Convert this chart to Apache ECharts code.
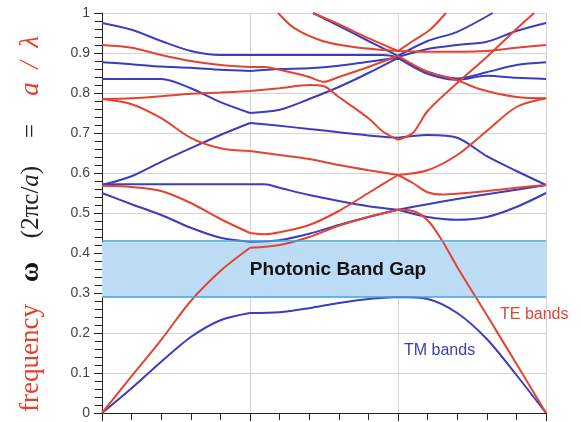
<!DOCTYPE html>
<html><head><meta charset="utf-8">
<script src="https://cdn.jsdelivr.net/npm/echarts@6/dist/echarts.min.js"></script>
<style>html,body{margin:0;padding:0;background:#fff}#c{width:581px;height:422px}</style>
</head><body><div id="c"></div>
<script>
// k-path position: 0 = Γ, 1 = X, 2 = M, 3 = Γ
const Y_TICK_LABELS = ['0','0.1','0.2','0.3','0.4','0.5','0.6','0.7','0.8','0.9','1'];
const GAP = [0.29, 0.427];

// TM bands (blue)
const TM1 = [[0,0],[0.2,0.062],[0.4,0.128],[0.6,0.19],[0.8,0.232],[1,0.25],[1.2,0.252],[1.4,0.262],[1.6,0.275],[1.8,0.285],[2,0.29],[2.2,0.285],[2.4,0.25],[2.6,0.185],[2.8,0.095],[3,0]];
const TM2 = [[0,0.55],[0.2,0.522],[0.4,0.495],[0.6,0.463],[0.8,0.438],[1,0.428],[1.2,0.432],[1.4,0.448],[1.6,0.47],[1.8,0.49],[2,0.508],[2.2,0.49],[2.4,0.483],[2.6,0.49],[2.8,0.515],[3,0.55]];
const TM3 = [[0,0.57],[0.2,0.592],[0.4,0.628],[0.6,0.662],[0.8,0.695],[1,0.725],[1.2,0.718],[1.4,0.71],[1.6,0.702],[1.8,0.694],[2,0.688],[2.2,0.695],[2.4,0.688],[2.6,0.642],[2.8,0.605],[3,0.57]];
const TM4 = [[0,0.572],[0.5,0.572],[1,0.572],[1.1,0.572],[1.2,0.563],[1.4,0.545],[1.6,0.53],[1.8,0.517],[2,0.508],[2.2,0.522],[2.4,0.535],[2.6,0.547],[2.8,0.558],[3,0.57]];
const TM5 = [[0,0.835],[0.2,0.835],[0.4,0.835],[0.6,0.812],[0.8,0.777],[1,0.75],[1.2,0.758],[1.4,0.785],[1.6,0.815],[1.8,0.85],[2,0.888],[2.2,0.848],[2.4,0.833],[2.6,0.843],[2.8,0.838],[3,0.835]];
const TM6 = [[0,0.877],[0.2,0.872],[0.4,0.866],[0.6,0.863],[0.8,0.858],[1,0.855],[1.2,0.86],[1.4,0.862],[1.6,0.868],[1.8,0.878],[2,0.888],[2.2,0.853],[2.4,0.836],[2.6,0.852],[2.8,0.87],[3,0.877]];
const TM7 = [[0,0.975],[0.2,0.958],[0.4,0.93],[0.6,0.905],[0.8,0.895],[1,0.895],[1.5,0.895],[1.9,0.895],[2,0.89],[2.2,0.91],[2.4,0.92],[2.6,0.928],[2.8,0.955],[3,0.975]];
const TM8 = [[1.426,1.0],[1.6,0.968],[1.8,0.93],[2,0.893],[2.2,0.93],[2.4,0.953],[2.64,1.0]];

// TE bands (red)
const TE1 = [[0,0],[0.2,0.092],[0.4,0.183],[0.6,0.28],[0.8,0.355],[1,0.413],[1.2,0.42],[1.4,0.44],[1.6,0.468],[1.8,0.49],[2,0.508],[2.1,0.505],[2.2,0.482],[2.3,0.43],[2.4,0.365],[2.6,0.245],[2.8,0.123],[3,0]];
const TE2 = [[0,0.568],[0.2,0.565],[0.4,0.555],[0.6,0.525],[0.8,0.485],[1,0.45],[1.1,0.447],[1.2,0.452],[1.4,0.47],[1.6,0.505],[1.8,0.55],[2,0.595],[2.1,0.575],[2.2,0.552],[2.3,0.546],[2.4,0.548],[2.6,0.555],[2.8,0.563],[3,0.57]];
const TE3 = [[0,0.785],[0.2,0.772],[0.4,0.737],[0.6,0.688],[0.8,0.662],[1,0.655],[1.2,0.645],[1.4,0.635],[1.6,0.62],[1.8,0.607],[2,0.595],[2.2,0.607],[2.4,0.645],[2.6,0.705],[2.8,0.765],[3,0.787]];
const TE4 = [[0,0.785],[0.2,0.787],[0.4,0.792],[0.6,0.798],[0.8,0.801],[1,0.805],[1.2,0.812],[1.4,0.82],[1.5,0.817],[1.6,0.79],[1.8,0.737],[1.9,0.703],[2,0.683],[2.1,0.7],[2.2,0.755],[2.4,0.825],[2.6,0.89],[2.8,0.96],[2.92,1.0]];
const TE5 = [[0,0.92],[0.2,0.913],[0.4,0.895],[0.6,0.88],[0.8,0.87],[1,0.865],[1.1,0.865],[1.2,0.858],[1.4,0.84],[1.5,0.828],[1.6,0.84],[1.8,0.865],[2,0.893],[2.2,0.853],[2.4,0.832],[2.55,0.81],[2.8,0.79],[3,0.787]];
const TE6 = [[1.19,1.0],[1.3,0.962],[1.49,0.93],[1.7,0.915],[2,0.905],[2.2,0.903],[2.4,0.903],[2.6,0.905],[2.8,0.913],[3,0.92]];
const TE7 = [[1.426,1.0],[1.6,0.972],[1.8,0.937],[2,0.905],[2.1,0.93],[2.216,0.958],[2.324,1.0]];

const TM_BANDS = [TM1,TM2,TM3,TM4,TM5,TM6,TM7,TM8];
const TE_BANDS = [TE1,TE2,TE3,TE4,TE5,TE6,TE7];

const RED = '#e5432f', BLUE = '#3a3dc0';

// break the line at high-symmetry points so kinks stay sharp
function withBreaks(pts){
  const out=[];
  pts.forEach((p,i)=>{
    out.push(p);
    if((p[0]===1||p[0]===2) && i>0 && i<pts.length-1){ out.push([p[0],'-']); out.push(p); }
  });
  return out;
}
function band(pts,color){
  return {type:'line', data:withBreaks(pts), showSymbol:false, symbol:'none', smooth:0.3,
    connectNulls:false, lineStyle:{color:color,width:2}, z:3, silent:true, animation:false};
}

const chart = echarts.init(document.getElementById('c'));
const series = [{
  type:'line', data:[], z:1, silent:true, animation:false,
  markArea:{silent:true, itemStyle:{color:'#bcdcf6'},
    label:{show:true, position:'inside', color:'#111', fontWeight:'bold', fontSize:19,
      fontFamily:'Liberation Sans, Arial, sans-serif', offset:[14,0]},
    data:[[{name:'Photonic Band Gap', xAxis:0, yAxis:GAP[0]},{xAxis:3, yAxis:GAP[1]}]]},
  markLine:{silent:true, symbol:'none', label:{show:false}, animation:false,
    lineStyle:{color:'#3ea6dc', width:1.5, type:'solid'},
    data:[{yAxis:GAP[0]},{yAxis:GAP[1]}]}
}];
TM_BANDS.forEach(b=>series.push(band(b,BLUE)));
TE_BANDS.forEach(b=>series.push(band(b,RED)));

const serif = 'Liberation Serif, "Times New Roman", serif';
function vtext(y, rich, txt){
  return {type:'text', x:31, y:y, rotation:Math.PI/2,
    style:{text:txt, align:'center', verticalAlign:'middle', rich:rich}};
}
const R = {
  f:{fill:'#e0412e', fontFamily:serif, fontSize:27},
  w:{fill:'#111', fontFamily:serif, fontSize:28, fontWeight:'bold'},
  p:{fill:'#222', fontFamily:serif, fontSize:25},
  i:{fill:'#222', fontFamily:serif, fontSize:25, fontStyle:'italic'},
  a:{fill:'#e0412e', fontFamily:serif, fontSize:27, fontStyle:'italic'}
};

chart.setOption({
  backgroundColor:'#fff',
  animation:false,
  grid:{left:102, right:35, top:13, bottom:9},
  xAxis:{type:'value', min:0, max:3, interval:1,
    axisLine:{show:true, lineStyle:{color:'#222', width:1}},
    axisTick:{show:true, length:8, lineStyle:{color:'#222'}},
    minorTick:{show:true, splitNumber:5, length:7, lineStyle:{color:'#222'}},
    axisLabel:{show:false},
    splitLine:{show:true, lineStyle:{color:'#d4d4d4', width:1}}},
  yAxis:{type:'value', min:0, max:1, interval:0.1,
    axisLine:{show:true, lineStyle:{color:'#222', width:1}},
    axisTick:{show:true, length:8, lineStyle:{color:'#222'}},
    minorTick:{show:true, splitNumber:5, length:7, lineStyle:{color:'#222'}},
    axisLabel:{color:'#444', fontSize:14, fontFamily:'Liberation Sans, Arial, sans-serif', margin:12,
      formatter:(v)=>Y_TICK_LABELS[Math.round(v*10)]},
    splitLine:{show:true, lineStyle:{color:'#d4d4d4', width:1}}},
  series:series,
  graphic:[
    {type:'text', left:404, top:343, style:{text:'TM bands', fill:'#3a3fae', font:'16px Liberation Sans, Arial, sans-serif'}},
    {type:'text', left:500, top:307, style:{text:'TE bands', fill:'#d9473a', font:'16px Liberation Sans, Arial, sans-serif'}},
    vtext(358, R, '{f|frequency}'),
    vtext(272, R, '{w|ω}'),
    vtext(202, R, '{p|(2πc/}{i|a}{p|)}'),
    vtext(131, R, '{p|=}'),
    vtext(66, R, '{a|a  /  λ}')
  ]
});
</script></body></html>
